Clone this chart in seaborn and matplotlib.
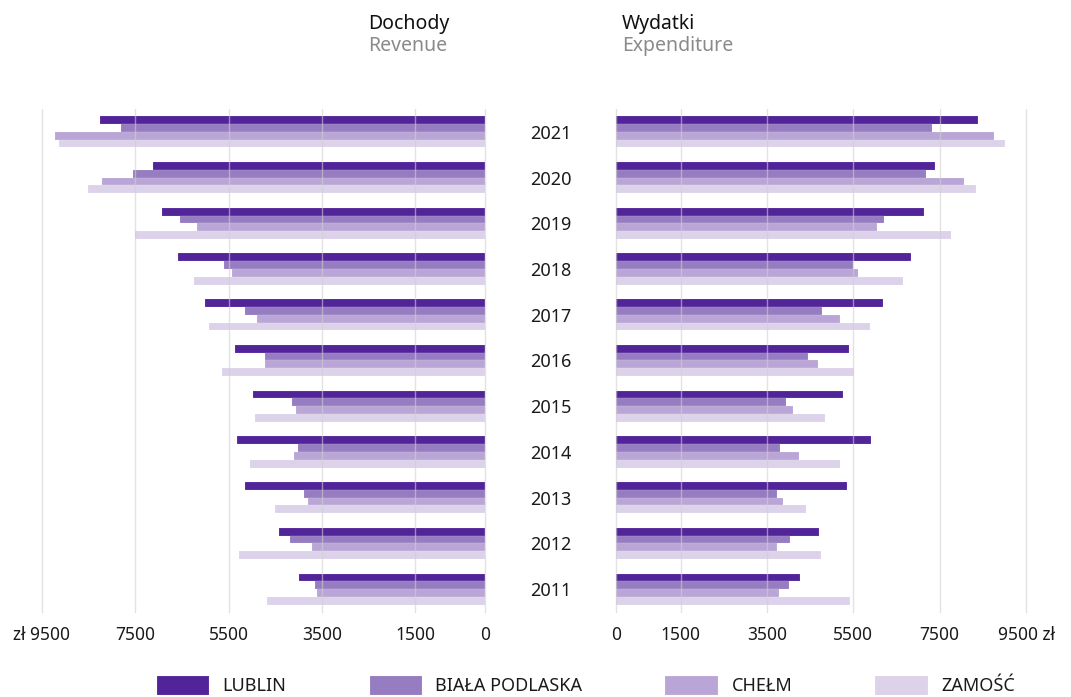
import matplotlib
matplotlib.use("Agg")
import matplotlib.pyplot as plt
import seaborn as sns
import pandas as pd

years = ["2021", "2020", "2019", "2018", "2017", "2016", "2015", "2014", "2013", "2012", "2011"]
cities = ["LUBLIN", "BIAŁA PODLASKA", "CHEŁM", "ZAMOŚĆ"]
colors = ["#52249A", "#967CC0", "#BAA6D6", "#DCD3EA"]

rev_lublin = [8256, 7120, 6927, 6584, 6005, 5361, 4975, 5318, 5147, 4418, 3989]
rev_biala = [7806, 7549, 6541, 5597, 5147, 4718, 4139, 4010, 3882, 4182, 3646]
rev_chelm = [9221, 8214, 6176, 5426, 4890, 4718, 4053, 4096, 3796, 3710, 3603]
rev_zamosc = [9136, 8514, 7506, 6241, 5919, 5640, 4932, 5040, 4503, 5276, 4675]

exp_lublin = [8388, 7391, 7137, 6835, 6187, 5399, 5260, 5908, 5352, 4704, 4263]
exp_biala = [7322, 7183, 6210, 5491, 4773, 4449, 3939, 3800, 3730, 4032, 4008]
exp_chelm = [8759, 8063, 6048, 5607, 5190, 4681, 4101, 4240, 3870, 3730, 3777]
exp_zamosc = [9013, 8341, 7762, 6650, 5885, 5515, 4843, 5190, 4402, 4750, 5422]

ticks = [0, 1500, 3500, 5500, 7500, 9500]
left_tick_labels = ["0", "1500", "3500", "5500", "7500", "zł 9500"]
right_tick_labels = ["0", "1500", "3500", "5500", "7500", "9500 zł"]

rows = []
for c, rv, ex in zip(cities,
                     [rev_lublin, rev_biala, rev_chelm, rev_zamosc],
                     [exp_lublin, exp_biala, exp_chelm, exp_zamosc]):
    for y, r, e in zip(years, rv, ex):
        rows.append({"year": y, "city": c, "revenue": r, "expenditure": e})
df = pd.DataFrame(rows)

sns.set_theme(style="white")
plt.rcParams["font.family"] = ["Noto Sans", "DejaVu Sans"]

W, H = 1071, 697
fig = plt.figure(figsize=(W / 100, H / 100), dpi=100)

bottom = 1 - 612 / H
height = (612 - 109) / H
axL = fig.add_axes([42 / W, bottom, (485 - 42) / W, height])
axR = fig.add_axes([616 / W, bottom, (1026 - 616) / W, height])

common = dict(y="year", hue="city", order=years, hue_order=cities,
              palette=colors, width=0.68, orient="h",
              edgecolor=(1, 1, 1, 0.35), linewidth=0.25, saturation=1)
sns.barplot(data=df, x="revenue", ax=axL, legend=True, **common)
sns.barplot(data=df, x="expenditure", ax=axR, legend=False, **common)

handles, labels = axL.get_legend_handles_labels()
axL.get_legend().remove()

for ax in (axL, axR):
    for s in ax.spines.values():
        s.set_visible(False)
    ax.set_xlabel("")
    ax.set_ylabel("")
    ax.set_xticks(ticks)
    ax.grid(axis="x", color="#cfcfcf", linewidth=1.0, alpha=0.6, clip_on=False)
    ax.grid(axis="y", visible=False)
    ax.set_axisbelow(False)
    ax.tick_params(axis="both", length=0, labelsize=12.5, colors="#1a1a1a")
    ax.tick_params(axis="x", pad=10)

axL.set_xlim(9500, 0)
axR.set_xlim(0, 9500)
axL.set_xticklabels(left_tick_labels)
axR.set_xticklabels(right_tick_labels)
axL.set_yticklabels([])
axR.set_yticks(range(len(years)))
axR.set_yticklabels(years, ha="center", fontsize=13)
axR.tick_params(axis="y", pad=47)

fig.text(368 / W, 1 - 24 / H, "Dochody", fontsize=14, color="#111111", va="center", ha="left")
fig.text(368 / W, 1 - 46 / H, "Revenue", fontsize=14, color="#8a8a8a", va="center", ha="left")
fig.text(622 / W, 1 - 24 / H, "Wydatki", fontsize=14, color="#111111", va="center", ha="left")
fig.text(622 / W, 1 - 46 / H, "Expenditure", fontsize=14, color="#8a8a8a", va="center", ha="left")

fig.legend(handles, labels, loc="upper center", bbox_to_anchor=(0.547, 1 - 667 / H),
           ncol=4, frameon=False, fontsize=13, handlelength=2.9, handleheight=1.2,
           handletextpad=0.75, columnspacing=4.6, borderpad=0, labelcolor="#1a1a1a")

fig.savefig("out.png", dpi=100)
